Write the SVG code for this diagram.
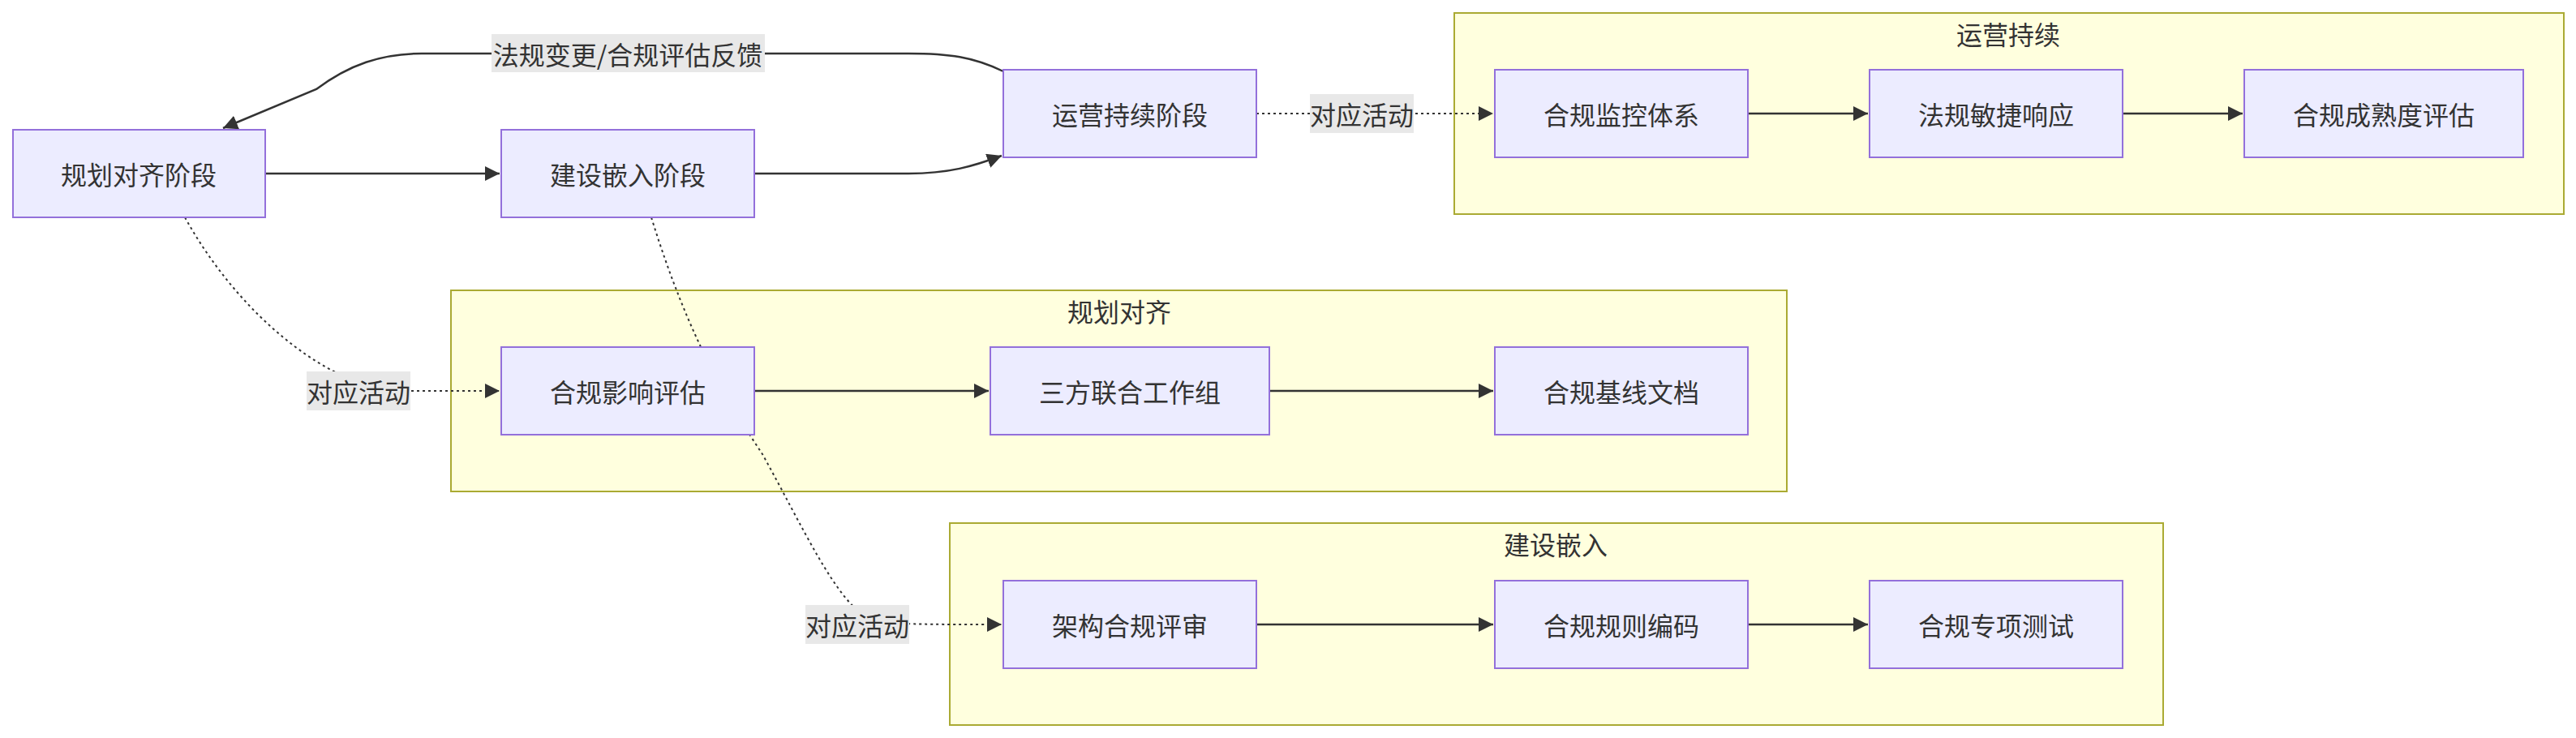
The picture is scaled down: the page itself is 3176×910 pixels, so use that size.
<svg xmlns="http://www.w3.org/2000/svg" width="3176" height="910" viewBox="0 0 3176 910">
<style>
text{font-family:"Noto Sans CJK SC","Liberation Sans",sans-serif;font-size:32px;fill:#333;text-anchor:middle;dominant-baseline:central}
.n rect{fill:#ECECFF;stroke:#9370DB;stroke-width:2}
.c rect{fill:#FFFFDE;stroke:#AAAA33;stroke-width:2}
.e{fill:none;stroke:#333;stroke-width:2.5}
.d{fill:none;stroke:#333;stroke-width:2;stroke-dasharray:3 4}
.lb{fill:#e8e8e8}
</style>
<defs>
<marker id="a" viewBox="0 0 10 10" refX="9" refY="5" markerWidth="7" markerHeight="7" markerUnits="userSpaceOnUse" orient="auto" style="overflow:visible">
<path d="M0,0L10,5L0,10z" fill="#333" transform="scale(2.4) translate(-6,-3)"/>
</marker>
<marker id="m" viewBox="0 0 12 12" refX="12" refY="6" markerWidth="18" markerHeight="18" markerUnits="userSpaceOnUse" orient="auto"><path d="M0,0L12,6L0,12z" fill="#333"/></marker>
</defs>
<g id="clusters">
<g class="c" id="c-ops"><rect x="1793" y="16" width="1368" height="248"/><text x="2476" y="41">运营持续</text></g>
<g class="c" id="c-plan"><rect x="556" y="358" width="1647" height="248"/><text x="1380" y="383">规划对齐</text></g>
<g class="c" id="c-build"><rect x="1171" y="645" width="1496" height="249"/><text x="1918" y="670">建设嵌入</text></g>
</g>
<g id="edges">
<path class="e" marker-end="url(#m)" d="M1237,88 C1200,70 1170,66 1120,66 L520,66 C470,66 430,80 390,110 L275,158"/>
<path class="e" marker-end="url(#m)" d="M327,214 L616,214"/>
<path class="e" marker-end="url(#m)" d="M930,214 L1120,214 C1170,214 1200,205 1235,192"/>
<path class="d" marker-end="url(#m)" d="M1549,140 L1841,140"/>
<path class="d" marker-end="url(#m)" d="M228,268 C290,380 380,450 440,470 M500,482 L616,482"/>
<path class="d" marker-end="url(#m)" d="M803,268 C850,420 900,500 940,560 C990,650 1030,740 1070,762 C1090,770 1120,770 1235,770"/>
<path class="e" marker-end="url(#m)" d="M930,482 L1219,482"/>
<path class="e" marker-end="url(#m)" d="M1565,482 L1841,482"/>
<path class="e" marker-end="url(#m)" d="M1549,770 L1841,770"/>
<path class="e" marker-end="url(#m)" d="M2155,770 L2303,770"/>
<path class="e" marker-end="url(#m)" d="M2155,140 L2303,140"/>
<path class="e" marker-end="url(#m)" d="M2617,140 L2765,140"/>
<rect class="lb" x="606" y="42" width="337" height="47"/><text x="774" y="66">法规变更/合规评估反馈</text>
<rect class="lb" x="1615" y="116" width="128" height="48"/><text x="1679" y="140">对应活动</text>
<rect class="lb" x="378" y="458" width="128" height="48"/><text x="442" y="482">对应活动</text>
<rect class="lb" x="993" y="746" width="128" height="48"/><text x="1057" y="770">对应活动</text>
</g>
<g class="n" id="n1"><rect x="16" y="160" width="311" height="108"/><text x="171" y="214">规划对齐阶段</text></g>
<g class="n" id="n2"><rect x="618" y="160" width="312" height="108"/><text x="774" y="214">建设嵌入阶段</text></g>
<g class="n" id="n3"><rect x="1237" y="86" width="312" height="108"/><text x="1393" y="140">运营持续阶段</text></g>
<g class="n" id="p1"><rect x="618" y="428" width="312" height="108"/><text x="774" y="482">合规影响评估</text></g>
<g class="n" id="p2"><rect x="1221" y="428" width="344" height="108"/><text x="1393" y="482">三方联合工作组</text></g>
<g class="n" id="p3"><rect x="1843" y="428" width="312" height="108"/><text x="1999" y="482">合规基线文档</text></g>
<g class="n" id="b1"><rect x="1237" y="716" width="312" height="108"/><text x="1393" y="770">架构合规评审</text></g>
<g class="n" id="b2"><rect x="1843" y="716" width="312" height="108"/><text x="1999" y="770">合规规则编码</text></g>
<g class="n" id="b3"><rect x="2305" y="716" width="312" height="108"/><text x="2461" y="770">合规专项测试</text></g>
<g class="n" id="o1"><rect x="1843" y="86" width="312" height="108"/><text x="1999" y="140">合规监控体系</text></g>
<g class="n" id="o2"><rect x="2305" y="86" width="312" height="108"/><text x="2461" y="140">法规敏捷响应</text></g>
<g class="n" id="o3"><rect x="2767" y="86" width="344" height="108"/><text x="2939" y="140">合规成熟度评估</text></g>
</svg>
